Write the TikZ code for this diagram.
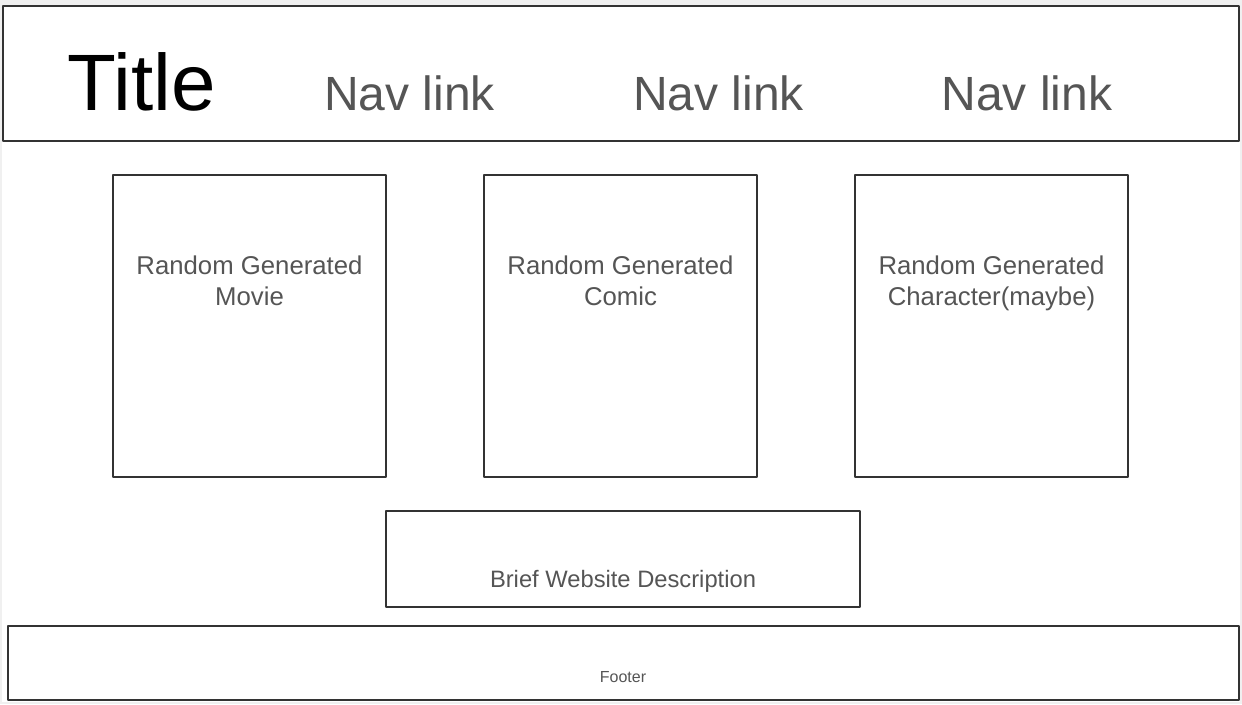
\documentclass[tikz,border=0pt]{standalone}
\usepackage{fontspec}
\setmainfont{Liberation Sans}
\usetikzlibrary{positioning}
\definecolor{wireline}{HTML}{333333}
\definecolor{wiretext}{HTML}{555555}

\begin{document}
\begin{tikzpicture}[line cap=round,line join=round,x=0.75pt,y=-0.75pt,
  wirebox/.style={draw=wireline,line width=1.1pt},
  wiretxt/.style={text=wiretext,anchor=base,inner sep=0pt,align=center}]
\useasboundingbox (0,0) rectangle (1242,704);
\fill[black!6] (0,0) rectangle (1242,704);
\fill[white] (2,5) rectangle (1240,702);
% header
\draw[wirebox] (3,6) rectangle (1239,141);
\node[anchor=base,inner sep=0pt,font=\fontsize{60}{72}\selectfont] (title) at (142,110) {Title};
\foreach \i/\x in {1/409.5,2/718.5,3/1027}
  \node[wiretxt,font=\fontsize{36}{43}\selectfont] (nav\i) at (\x,110) {Nav link};
% cards
\foreach \n/\x/\t in {movie/113/Movie,comic/484/Comic,char/855/Character(maybe)}
{
  \draw[wirebox] (\x,175) rectangle ++(273,302);
  \node[wiretxt,font=\fontsize{19.3}{23.2}\selectfont] (\n) at (\x+136.5,305) {Random Generated\\\t};
};
% description
\draw[wirebox] (386,511) rectangle (860,607);
\node[wiretxt,font=\fontsize{17.8}{21}\selectfont] (desc) at (623,587) {Brief Website Description};
%footer
\draw[wirebox] (8,626) rectangle (1239,700);
\node[wiretxt,font=\fontsize{12}{14}\selectfont] (footer) at (623,682) {Footer};
\end{tikzpicture}
\end{document}
